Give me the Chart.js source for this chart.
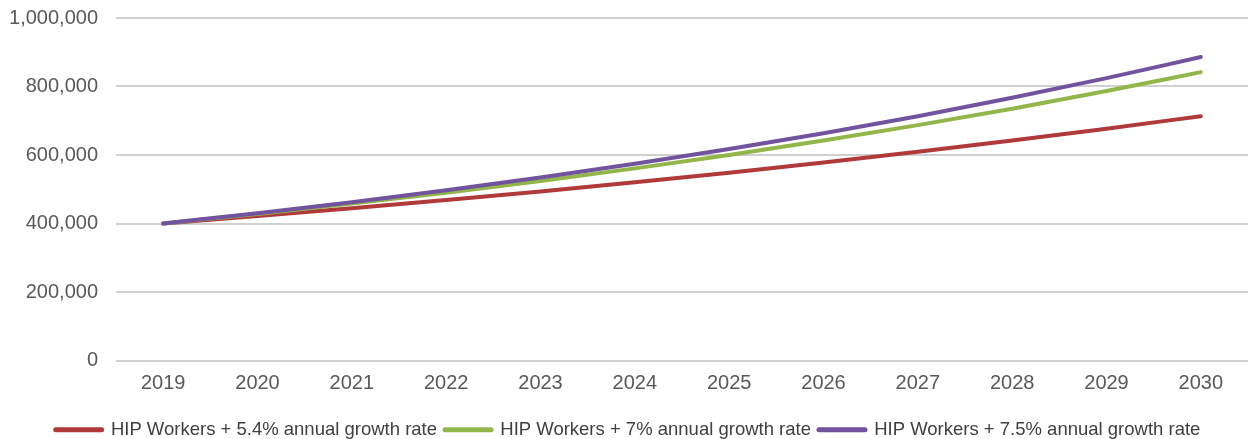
<!DOCTYPE html>
<html>
<head>
<meta charset="utf-8">
<script src="https://cdn.jsdelivr.net/npm/chart.js@4/dist/chart.umd.min.js"></script>
<style>
  html, body { margin: 0; padding: 0; background: #fff; }
  #wrap { width: 1248px; height: 439px; }
</style>
</head>
<body>
<div id="wrap"><canvas id="growthChart"></canvas></div>
<script>
const ctx = document.getElementById('growthChart').getContext('2d');

Chart.defaults.font.family = '"Liberation Sans", Arial, sans-serif';
Chart.defaults.color = '#595959';

// years on the x axis
const years = ['2019', '2020', '2021', '2022', '2023', '2024', '2025', '2026', '2027', '2028', '2029', '2030'];

// projected HIP workers per scenario
const growth54 = [400000, 421600, 444400, 468400, 493700, 520300, 548400, 578000, 609200, 642100, 676800, 713300];
const growth70 = [400000, 428000, 458000, 490000, 524300, 561000, 600300, 642300, 687200, 735300, 786800, 841900];
const growth75 = [400000, 430000, 462300, 496900, 534200, 574300, 617300, 663600, 713400, 766900, 824400, 886200];

const seriesNames = [
    'HIP Workers + 5.4% annual growth rate',
    'HIP Workers + 7% annual growth rate',
    'HIP Workers + 7.5% annual growth rate'
];

const yTicks = [0, 200000, 400000, 600000, 800000, 1000000];

function lineSet(label, values, color, order) {
    return {
        label,
        data: values,
        borderColor: color,
        backgroundColor: color,
        borderWidth: 4,
        borderCapStyle: 'round',
        borderJoinStyle: 'round',
        pointRadius: 0,
        pointHoverRadius: 0,
        cubicInterpolationMode: 'monotone',
        fill: false,
        order
    };
}

const data = {
    labels: years,
    datasets: [
        lineSet(seriesNames[0], growth54, '#b0393a', 3),
        lineSet(seriesNames[1], growth70, '#92b64a', 2),
        lineSet(seriesNames[2], growth75, '#71539e', 1)
    ]
};

const config = {
    type: 'line',
    data,
    options: {
        responsive: true,
        maintainAspectRatio: false,
        animation: false,
        layout: {
            padding: { top: 18, left: 8, right: 0, bottom: -10 }
        },
        scales: {
            x: {
                offset: true,
                grid: { display: false },
                border: { display: false },
                ticks: {
                    padding: 3,
                    font: { size: 20 },
                    color: '#595959'
                },
                afterFit: (axis) => {
                    axis.height += 14;
                }
            },
            y: {
                min: 0,
                max: 1000000,
                afterBuildTicks: (axis) => {
                    axis.ticks = yTicks.map(v => ({ value: v }));
                },
                afterFit: (axis) => {
                    axis.width = 108;
                },
                grid: {
                    color: '#d0d0d0',
                    lineWidth: 2,
                    drawTicks: true,
                    tickLength: 18,
                    tickColor: 'rgba(0,0,0,0)'
                },
                border: { display: false },
                ticks: {
                    padding: 0,
                    font: { size: 20 },
                    color: '#595959',
                    callback: (value) => value.toLocaleString('en-US')
                }
            }
        },
        plugins: {
            tooltip: { enabled: false },
            legend: {
                position: 'bottom',
                labels: {
                    usePointStyle: true,
                    pointStyle: 'line',
                    pointStyleWidth: 46,
                    boxHeight: 4,
                    padding: 8,
                    font: { size: 18.5 },
                    color: '#404040',
                    sort: (a, b) => a.datasetIndex - b.datasetIndex,
                    generateLabels: (chart) => {
                        const items = Chart.defaults.plugins.legend.labels.generateLabels(chart);
                        items.forEach(item => {
                            item.pointStyle = 'line';
                            item.lineWidth = 5;
                            item.lineCap = 'round';
                        });
                        return items;
                    }
                }
            }
        }
    }
};

const growthChart = new Chart(ctx, config);
</script>
</body>
</html>
